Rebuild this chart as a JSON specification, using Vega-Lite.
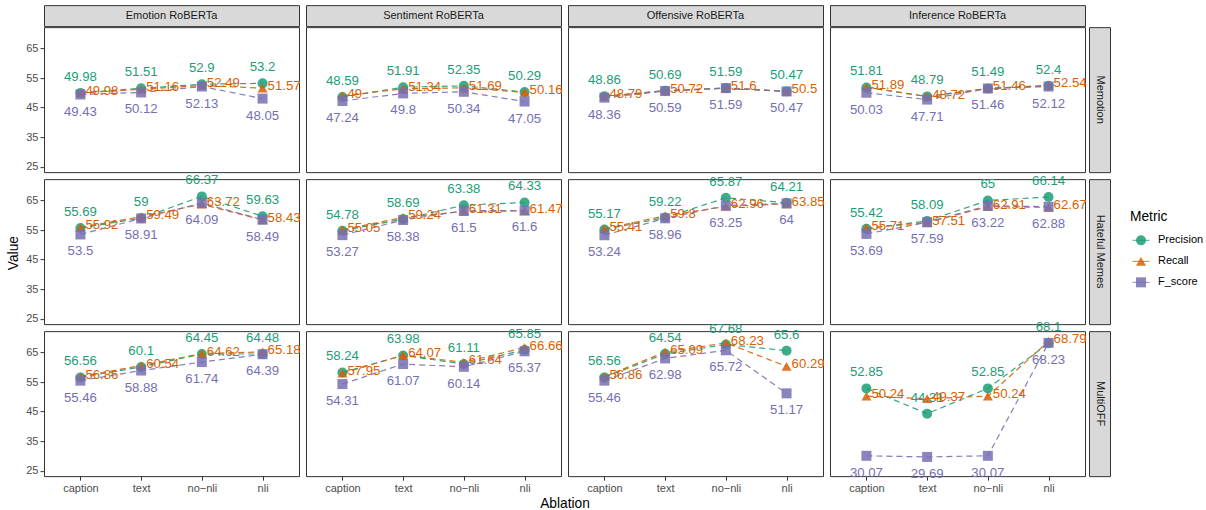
{
  "$schema": "https://vega.github.io/schema/vega-lite/v6.json",
  "padding": {"left": 7, "top": 4, "right": 3, "bottom": 3},
  "spacing": 19,
  "center": true,
  "config": {
    "font": "Liberation Sans",
    "view": {"stroke": "#333333", "strokeWidth": 1},
    "axis": {"grid": false, "domain": false, "tickColor": "#333333", "tickSize": 4, "labelColor": "#4d4d4d", "labelFontSize": 11, "labelPadding": 2, "titleFontSize": 13.75, "titleFontWeight": "normal", "titleColor": "#000000", "titlePadding": 6},
    "header": {"titleFontSize": 13.75, "titleFontWeight": "normal", "titleColor": "#000000"}
  },
  "hconcat": [
    {
      "spacing": -2,
      "vconcat": [
        {
          "data": {"values": [
            {"model": "Emotion RoBERTa"}, {"model": "Sentiment RoBERTa"}, {"model": "Offensive RoBERTa"}, {"model": "Inference RoBERTa"}
          ]},
          "facet": {"column": {"field": "model", "type": "nominal", "sort": ["Emotion RoBERTa", "Sentiment RoBERTa", "Offensive RoBERTa", "Inference RoBERTa"], "header": {"labels": false, "title": null, "labelPadding": 0, "titlePadding": 0}}},
          "spacing": {"column": 7},
          "bounds": "flush",
          "spec": {
            "width": 255,
            "height": 21,
            "view": {"fill": "#d9d9d9", "stroke": "#333333"},
            "mark": {"type": "text", "fontSize": 11, "color": "#1a1a1a"},
            "encoding": {"text": {"field": "model", "type": "nominal"}}
          }
        },
        {
          "hconcat": [
            {
              "data": {"values": [
                {"dataset": "Memotion", "model": "Emotion RoBERTa", "ablation": "caption", "Precision": 49.98, "Recall": 49.98, "F_score": 49.43},
                {"dataset": "Memotion", "model": "Emotion RoBERTa", "ablation": "text", "Precision": 51.51, "Recall": 51.16, "F_score": 50.12},
                {"dataset": "Memotion", "model": "Emotion RoBERTa", "ablation": "no−nli", "Precision": 52.9, "Recall": 52.49, "F_score": 52.13},
                {"dataset": "Memotion", "model": "Emotion RoBERTa", "ablation": "nli", "Precision": 53.2, "Recall": 51.57, "F_score": 48.05},
                {"dataset": "Memotion", "model": "Sentiment RoBERTa", "ablation": "caption", "Precision": 48.59, "Recall": 49, "F_score": 47.24},
                {"dataset": "Memotion", "model": "Sentiment RoBERTa", "ablation": "text", "Precision": 51.91, "Recall": 51.34, "F_score": 49.8},
                {"dataset": "Memotion", "model": "Sentiment RoBERTa", "ablation": "no−nli", "Precision": 52.35, "Recall": 51.69, "F_score": 50.34},
                {"dataset": "Memotion", "model": "Sentiment RoBERTa", "ablation": "nli", "Precision": 50.29, "Recall": 50.16, "F_score": 47.05},
                {"dataset": "Memotion", "model": "Offensive RoBERTa", "ablation": "caption", "Precision": 48.86, "Recall": 48.79, "F_score": 48.36},
                {"dataset": "Memotion", "model": "Offensive RoBERTa", "ablation": "text", "Precision": 50.69, "Recall": 50.72, "F_score": 50.59},
                {"dataset": "Memotion", "model": "Offensive RoBERTa", "ablation": "no−nli", "Precision": 51.59, "Recall": 51.6, "F_score": 51.59},
                {"dataset": "Memotion", "model": "Offensive RoBERTa", "ablation": "nli", "Precision": 50.47, "Recall": 50.5, "F_score": 50.47},
                {"dataset": "Memotion", "model": "Inference RoBERTa", "ablation": "caption", "Precision": 51.81, "Recall": 51.89, "F_score": 50.03},
                {"dataset": "Memotion", "model": "Inference RoBERTa", "ablation": "text", "Precision": 48.79, "Recall": 48.72, "F_score": 47.71},
                {"dataset": "Memotion", "model": "Inference RoBERTa", "ablation": "no−nli", "Precision": 51.49, "Recall": 51.46, "F_score": 51.46},
                {"dataset": "Memotion", "model": "Inference RoBERTa", "ablation": "nli", "Precision": 52.4, "Recall": 52.54, "F_score": 52.12},
                {"dataset": "Hateful Memes", "model": "Emotion RoBERTa", "ablation": "caption", "Precision": 55.69, "Recall": 55.92, "F_score": 53.5},
                {"dataset": "Hateful Memes", "model": "Emotion RoBERTa", "ablation": "text", "Precision": 59, "Recall": 59.49, "F_score": 58.91},
                {"dataset": "Hateful Memes", "model": "Emotion RoBERTa", "ablation": "no−nli", "Precision": 66.37, "Recall": 63.72, "F_score": 64.09},
                {"dataset": "Hateful Memes", "model": "Emotion RoBERTa", "ablation": "nli", "Precision": 59.63, "Recall": 58.43, "F_score": 58.49},
                {"dataset": "Hateful Memes", "model": "Sentiment RoBERTa", "ablation": "caption", "Precision": 54.78, "Recall": 55.05, "F_score": 53.27},
                {"dataset": "Hateful Memes", "model": "Sentiment RoBERTa", "ablation": "text", "Precision": 58.69, "Recall": 59.24, "F_score": 58.38},
                {"dataset": "Hateful Memes", "model": "Sentiment RoBERTa", "ablation": "no−nli", "Precision": 63.38, "Recall": 61.31, "F_score": 61.5},
                {"dataset": "Hateful Memes", "model": "Sentiment RoBERTa", "ablation": "nli", "Precision": 64.33, "Recall": 61.47, "F_score": 61.6},
                {"dataset": "Hateful Memes", "model": "Offensive RoBERTa", "ablation": "caption", "Precision": 55.17, "Recall": 55.41, "F_score": 53.24},
                {"dataset": "Hateful Memes", "model": "Offensive RoBERTa", "ablation": "text", "Precision": 59.22, "Recall": 59.8, "F_score": 58.96},
                {"dataset": "Hateful Memes", "model": "Offensive RoBERTa", "ablation": "no−nli", "Precision": 65.87, "Recall": 62.96, "F_score": 63.25},
                {"dataset": "Hateful Memes", "model": "Offensive RoBERTa", "ablation": "nli", "Precision": 64.21, "Recall": 63.85, "F_score": 64},
                {"dataset": "Hateful Memes", "model": "Inference RoBERTa", "ablation": "caption", "Precision": 55.42, "Recall": 55.71, "F_score": 53.69},
                {"dataset": "Hateful Memes", "model": "Inference RoBERTa", "ablation": "text", "Precision": 58.09, "Recall": 57.51, "F_score": 57.59},
                {"dataset": "Hateful Memes", "model": "Inference RoBERTa", "ablation": "no−nli", "Precision": 65, "Recall": 62.91, "F_score": 63.22},
                {"dataset": "Hateful Memes", "model": "Inference RoBERTa", "ablation": "nli", "Precision": 66.14, "Recall": 62.67, "F_score": 62.88},
                {"dataset": "MultiOFF", "model": "Emotion RoBERTa", "ablation": "caption", "Precision": 56.56, "Recall": 56.86, "F_score": 55.46},
                {"dataset": "MultiOFF", "model": "Emotion RoBERTa", "ablation": "text", "Precision": 60.1, "Recall": 60.54, "F_score": 58.88},
                {"dataset": "MultiOFF", "model": "Emotion RoBERTa", "ablation": "no−nli", "Precision": 64.45, "Recall": 64.62, "F_score": 61.74},
                {"dataset": "MultiOFF", "model": "Emotion RoBERTa", "ablation": "nli", "Precision": 64.48, "Recall": 65.18, "F_score": 64.39},
                {"dataset": "MultiOFF", "model": "Sentiment RoBERTa", "ablation": "caption", "Precision": 58.24, "Recall": 57.95, "F_score": 54.31},
                {"dataset": "MultiOFF", "model": "Sentiment RoBERTa", "ablation": "text", "Precision": 63.98, "Recall": 64.07, "F_score": 61.07},
                {"dataset": "MultiOFF", "model": "Sentiment RoBERTa", "ablation": "no−nli", "Precision": 61.11, "Recall": 61.64, "F_score": 60.14},
                {"dataset": "MultiOFF", "model": "Sentiment RoBERTa", "ablation": "nli", "Precision": 65.85, "Recall": 66.66, "F_score": 65.37},
                {"dataset": "MultiOFF", "model": "Offensive RoBERTa", "ablation": "caption", "Precision": 56.56, "Recall": 56.86, "F_score": 55.46},
                {"dataset": "MultiOFF", "model": "Offensive RoBERTa", "ablation": "text", "Precision": 64.54, "Recall": 65.09, "F_score": 62.98},
                {"dataset": "MultiOFF", "model": "Offensive RoBERTa", "ablation": "no−nli", "Precision": 67.68, "Recall": 68.23, "F_score": 65.72},
                {"dataset": "MultiOFF", "model": "Offensive RoBERTa", "ablation": "nli", "Precision": 65.6, "Recall": 60.29, "F_score": 51.17},
                {"dataset": "MultiOFF", "model": "Inference RoBERTa", "ablation": "caption", "Precision": 52.85, "Recall": 50.24, "F_score": 30.07},
                {"dataset": "MultiOFF", "model": "Inference RoBERTa", "ablation": "text", "Precision": 44.31, "Recall": 49.37, "F_score": 29.69},
                {"dataset": "MultiOFF", "model": "Inference RoBERTa", "ablation": "no−nli", "Precision": 52.85, "Recall": 50.24, "F_score": 30.07},
                {"dataset": "MultiOFF", "model": "Inference RoBERTa", "ablation": "nli", "Precision": 68.1, "Recall": 68.79, "F_score": 68.23}
              ]},
              "transform": [{"fold": ["Precision", "Recall", "F_score"], "as": ["metric", "value"]}],
              "facet": {
                "row": {"field": "dataset", "type": "nominal", "title": "Value", "sort": ["Memotion", "Hateful Memes", "MultiOFF"], "header": {"labels": false, "labelPadding": 0, "titlePadding": -6}},
                "column": {"field": "model", "type": "nominal", "title": "Ablation", "sort": ["Emotion RoBERTa", "Sentiment RoBERTa", "Offensive RoBERTa", "Inference RoBERTa"], "header": {"labels": false, "labelPadding": 0, "titleOrient": "bottom", "titlePadding": -6}}
              },
              "spacing": {"row": 7, "column": 7},
              "bounds": "flush",
              "spec": {
                "width": 255,
                "height": 145,
                "encoding": {
                  "x": {"field": "ablation", "type": "ordinal", "sort": ["caption", "text", "no−nli", "nli"], "scale": {"type": "point", "padding": 0.6}, "axis": {"title": null, "labelAngle": 0}},
                  "y": {"field": "value", "type": "quantitative", "scale": {"domain": [23.2, 72.2], "nice": false, "zero": false}, "axis": {"title": null, "values": [25, 35, 45, 55, 65]}}
                },
                "layer": [
                  {
                    "mark": {"type": "line", "strokeDash": [6, 4], "strokeWidth": 1.2, "opacity": 0.9},
                    "encoding": {"color": {"field": "metric", "type": "nominal", "scale": {"domain": ["Precision", "Recall", "F_score"], "range": ["#1b9e77", "#d95f02", "#7570b3"]}, "legend": null}}
                  },
                  {
                    "mark": {"type": "point", "filled": true, "size": 100, "opacity": 0.85},
                    "encoding": {
                      "color": {"field": "metric", "type": "nominal", "legend": null},
                      "shape": {"field": "metric", "type": "nominal", "scale": {"domain": ["Precision", "Recall", "F_score"], "range": ["circle", "triangle-up", "square"]}, "legend": null}
                    }
                  },
                  {
                    "transform": [{"filter": "datum.metric === 'Precision'"}],
                    "mark": {"type": "text", "fontSize": 13.2, "dy": -16},
                    "encoding": {"text": {"field": "value", "type": "nominal"}, "color": {"field": "metric", "type": "nominal", "legend": null}}
                  },
                  {
                    "transform": [{"filter": "datum.metric === 'Recall'"}],
                    "mark": {"type": "text", "fontSize": 13.2, "align": "left", "dx": 5, "dy": -2},
                    "encoding": {"text": {"field": "value", "type": "nominal"}, "color": {"field": "metric", "type": "nominal", "legend": null}}
                  },
                  {
                    "transform": [{"filter": "datum.metric === 'F_score'"}],
                    "mark": {"type": "text", "fontSize": 13.2, "dy": 17},
                    "encoding": {"text": {"field": "value", "type": "nominal"}, "color": {"field": "metric", "type": "nominal", "legend": null}}
                  }
                ]
              }
            },
            {
              "data": {"values": [{"dataset": "Memotion"}, {"dataset": "Hateful Memes"}, {"dataset": "MultiOFF"}]},
              "facet": {"row": {"field": "dataset", "type": "nominal", "sort": ["Memotion", "Hateful Memes", "MultiOFF"], "header": {"labels": false, "title": null, "labelPadding": 0, "titlePadding": 0}}},
              "spacing": {"row": 7},
              "bounds": "flush",
              "spec": {
                "width": 21,
                "height": 145,
                "view": {"fill": "#d9d9d9", "stroke": "#333333"},
                "mark": {"type": "text", "fontSize": 11, "color": "#1a1a1a", "angle": 90},
                "encoding": {"text": {"field": "dataset", "type": "nominal"}}
              }
            }
          ],
          "spacing": 0
        }
      ]
    },
    {
      "data": {"values": [{"metric": "Precision"}, {"metric": "Recall"}, {"metric": "F_score"}]},
      "width": 22,
      "height": 105,
      "view": {"stroke": null},
      "encoding": {
        "y": {"field": "metric", "type": "nominal", "scale": {"type": "point", "domain": ["Metric", "Precision", "Recall", "F_score"], "padding": 1, "align": 0.33}, "axis": null}
      },
      "layer": [
        {
          "mark": {"type": "tick", "orient": "horizontal", "size": 17, "thickness": 1.2},
          "encoding": {"color": {"field": "metric", "type": "nominal", "scale": {"domain": ["Precision", "Recall", "F_score"], "range": ["#1b9e77", "#d95f02", "#7570b3"]}, "legend": null}}
        },
        {
          "mark": {"type": "point", "filled": true, "size": 100, "opacity": 0.85},
          "encoding": {
            "color": {"field": "metric", "type": "nominal", "legend": null},
            "shape": {"field": "metric", "type": "nominal", "scale": {"domain": ["Precision", "Recall", "F_score"], "range": ["circle", "triangle-up", "square"]}, "legend": null}
          }
        },
        {
          "mark": {"type": "text", "align": "left", "dx": 17, "fontSize": 11, "color": "#000000"},
          "encoding": {"text": {"field": "metric", "type": "nominal"}}
        },
        {
          "data": {"values": [{"metric": "Metric"}]},
          "mark": {"type": "text", "align": "left", "dx": -11, "dy": -2, "fontSize": 13.75, "color": "#000000"},
          "encoding": {"text": {"field": "metric", "type": "nominal"}}
        }
      ]
    }
  ]
}
